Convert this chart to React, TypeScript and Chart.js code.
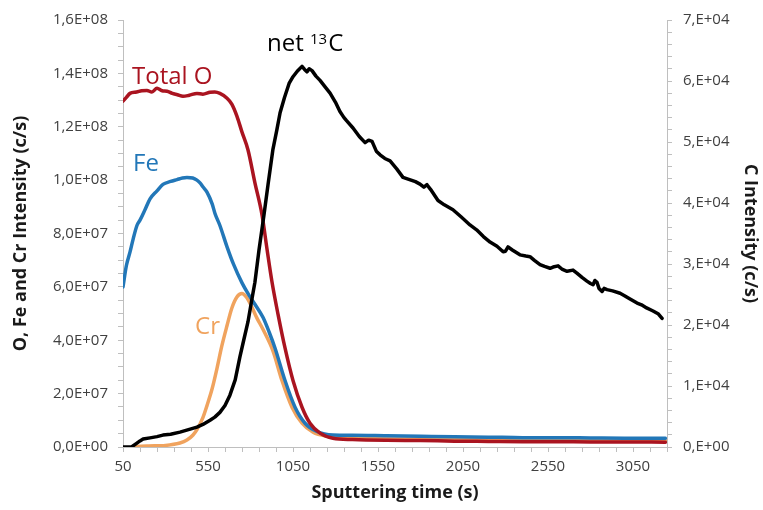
import React, { useEffect, useRef } from "react";
import { Chart, registerables } from "chart.js";

Chart.register(...registerables);

const FONT = "'Open Sans', 'DejaVu Sans', sans-serif";

// ---- Total O (left axis) ----
const timeO = [50, 70, 91, 130, 160, 191, 220, 250, 280, 309, 340, 370, 403, 440, 485, 520, 562, 590, 620, 662, 690, 720, 750, 785, 826, 868, 897, 926, 962, 1003, 1050, 1103, 1150, 1209, 1285, 1400, 1600, 1800, 2000, 2200, 2400, 2600, 2800, 3000, 3240];
const totalO = [1.296e8, 1.31e8, 1.325e8, 1.33e8, 1.335e8, 1.336e8, 1.33e8, 1.344e8, 1.335e8, 1.333e8, 1.325e8, 1.32e8, 1.314e8, 1.318e8, 1.325e8, 1.322e8, 1.329e8, 1.33e8, 1.325e8, 1.307e8, 1.285e8, 1.24e8, 1.18e8, 1.114e8, 9.9e7, 8.69e7, 7.42e7, 6.2e7, 4.97e7, 3.71e7, 2.49e7, 1.49e7, 8.9e6, 5.2e6, 3.3e6, 2.8e6, 2.5e6, 2.4e6, 2.2e6, 2.1e6, 2.0e6, 2.0e6, 1.9e6, 1.9e6, 1.8e6];

// ---- Fe (left axis) ----
const timeFe = [50, 70, 91, 110, 132, 150, 180, 209, 250, 285, 330, 368, 400, 426, 460, 485, 503, 520, 544, 575, 591, 620, 662, 700, 750, 790, 826, 874, 910, 944, 1003, 1062, 1121, 1191, 1285, 1400, 1600, 1800, 2000, 2200, 2400, 2600, 2800, 3000, 3240];
const fe = [6.0e7, 6.8e7, 7.3e7, 7.8e7, 8.3e7, 8.5e7, 8.9e7, 9.3e7, 9.6e7, 9.84e7, 9.95e7, 1.002e8, 1.008e8, 1.01e8, 1.008e8, 1.0e8, 9.9e7, 9.75e7, 9.55e7, 9.1e7, 8.75e7, 8.3e7, 7.5e7, 6.85e7, 6.15e7, 5.7e7, 5.35e7, 4.85e7, 4.3e7, 3.71e7, 2.49e7, 1.49e7, 8.9e6, 5.8e6, 4.5e6, 4.4e6, 4.2e6, 4.0e6, 3.8e6, 3.7e6, 3.5e6, 3.5e6, 3.4e6, 3.3e6, 3.3e6];

// ---- Cr (left axis) ----
const timeCr = [110, 135, 200, 300, 385, 426, 462, 485, 520, 544, 575, 603, 630, 662, 690, 720, 750, 775, 800, 838, 874, 932, 985, 1044, 1103, 1168, 1250, 1400, 1800, 2400, 3000, 3240];
const cr = [0, 2e5, 4e5, 6e5, 1.5e6, 2.6e6, 4.5e6, 6.5e6, 1.1e7, 1.55e7, 2.2e7, 2.95e7, 3.75e7, 4.55e7, 5.2e7, 5.62e7, 5.75e7, 5.62e7, 5.35e7, 4.83e7, 4.4e7, 3.6e7, 2.49e7, 1.49e7, 8.9e6, 5.5e6, 4.0e6, 3.3e6, 3.0e6, 2.7e6, 2.5e6, 2.4e6];

// ---- net 13C (right axis) ----
const timeC = [50, 100, 130, 150, 168, 209, 250, 285, 330, 385, 430, 485, 520, 562, 590, 620, 650, 679, 710, 738, 760, 785, 810, 826, 850, 879, 903, 932, 955, 974, 1000, 1027, 1050, 1075, 1103, 1118, 1132, 1145, 1162, 1185, 1209, 1240, 1268, 1300, 1326, 1350, 1365, 1403, 1440, 1474, 1495, 1515, 1540, 1562, 1590, 1621, 1660, 1697, 1740, 1770, 1797, 1820, 1838, 1860, 1903, 1940, 1991, 2040, 2091, 2130, 2170, 2209, 2250, 2286, 2300, 2315, 2340, 2385, 2420, 2444, 2470, 2503, 2530, 2562, 2580, 2609, 2635, 2662, 2697, 2720, 2750, 2779, 2800, 2815, 2826, 2838, 2850, 2868, 2880, 2897, 2930, 2974, 3000, 3030, 3074, 3100, 3130, 3168, 3200, 3221];
const netC = [0, 0, 600, 1000, 1300, 1500, 1700, 1950, 2100, 2440, 2800, 3250, 3700, 4390, 4900, 5680, 6800, 8500, 11000, 14800, 17500, 20500, 24500, 27000, 32300, 38000, 43000, 48800, 52000, 54800, 57300, 59600, 60700, 61600, 62400, 61900, 61500, 62000, 61700, 60800, 60100, 59000, 58000, 56500, 55000, 54000, 53500, 52300, 50900, 49900, 50300, 50100, 48500, 47900, 47300, 46900, 45600, 44200, 43800, 43500, 43100, 42600, 43000, 42200, 40400, 39700, 38900, 37700, 36400, 35600, 34500, 33600, 32900, 32000, 32100, 32800, 32300, 31500, 31300, 31200, 30600, 29900, 29600, 29300, 29500, 29700, 29100, 28800, 29000, 28500, 27800, 27200, 26800, 26600, 27300, 27000, 26000, 25500, 26000, 25800, 25600, 25200, 24800, 24300, 23600, 23300, 22800, 22300, 21800, 21100];

// ---- axes ----
const xMin = 50;
const xMax = 3250;
const xMinorStep = 100;
const xMajorTicks = [50, 550, 1050, 1550, 2050, 2550, 3050];

const yLeftMax = 1.6e8;
const yLeftMinorStep = 5e6;
const yLeftMajorTicks = [0, 2e7, 4e7, 6e7, 8e7, 1e8, 1.2e8, 1.4e8, 1.6e8];
const yLeftLabels = ["0,0E+00", "2,0E+07", "4,0E+07", "6,0E+07", "8,0E+07", "1,0E+08", "1,2E+08", "1,4E+08", "1,6E+08"];

const yRightMax = 7e4;
const yRightMinorStep = 2000;
const yRightMajorTicks = [0, 1e4, 2e4, 3e4, 4e4, 5e4, 6e4, 7e4];
const yRightLabels = ["0,E+00", "1,E+04", "2,E+04", "3,E+04", "4,E+04", "5,E+04", "6,E+04", "7,E+04"];

const COLOR_O = "#AA1420";
const COLOR_FE = "#2277B8";
const COLOR_CR = "#F0A35E";
const COLOR_C = "#000000";
const AXIS = "#BFBFBF";
const TICKTEXT = "#404040";
const TITLE = "#1A1A1A";

// series text labels (placed in data coordinates of x / left y axis)
const seriesLabels = [
  { text: "Total O", t: 103, v: 1.362e8, color: COLOR_O },
  { text: "Fe", t: 109, v: 1.036e8, color: COLOR_FE },
  { text: "Cr", t: 474, v: 4.23e7, color: COLOR_CR },
];
const netLabel = { pre: "net ", sup: "13", post: "C", t: 897, v: 1.485e8 };

function pts(t: number[], v: number[]) {
  return t.map((x, i) => ({ x, y: v[i] }));
}

function makeTicks(min: number, max: number, step: number) {
  const out: { value: number }[] = [];
  const n = Math.round((max - min) / step);
  for (let i = 0; i <= n; i++) out.push({ value: min + i * step });
  return out;
}

function labelFor(value: number, majors: number[], labels: string[]) {
  for (let i = 0; i < majors.length; i++) {
    if (Math.abs(majors[i] - value) < 1e-6 * Math.max(1, Math.abs(value))) return labels[i];
  }
  return "";
}

const labelPlugin = {
  id: "seriesLabels",
  afterDatasetsDraw(chart: any) {
    const { ctx, scales } = chart;
    const x = scales.x;
    const y = scales.y;
    ctx.save();
    ctx.textBaseline = "alphabetic";
    ctx.textAlign = "left";
    for (const lab of seriesLabels) {
      ctx.font = `24px ${FONT}`;
      ctx.fillStyle = lab.color;
      ctx.fillText(lab.text, x.getPixelForValue(lab.t), y.getPixelForValue(lab.v));
    }
    const px = x.getPixelForValue(netLabel.t);
    const py = y.getPixelForValue(netLabel.v);
    ctx.fillStyle = COLOR_C;
    ctx.font = `24px ${FONT}`;
    ctx.fillText(netLabel.pre, px, py);
    const w1 = ctx.measureText(netLabel.pre).width;
    ctx.font = `15px ${FONT}`;
    ctx.fillText(netLabel.sup, px + w1, py - 7);
    const w2 = ctx.measureText(netLabel.sup).width;
    ctx.font = `24px ${FONT}`;
    ctx.fillText(netLabel.post, px + w1 + w2 + 1, py);
    ctx.restore();
  },
};

export default function App() {
  const ref = useRef<HTMLCanvasElement | null>(null);

  useEffect(() => {
    if (!ref.current) return;
    const common = {
      pointRadius: 0,
      borderWidth: 3.5,
      fill: false,
      borderJoinStyle: "round" as const,
      borderCapStyle: "round" as const,
    };
    const titleFont = { family: FONT, size: 18, weight: "bold" as const };
    const tickFont = { family: FONT, size: 15 };
    const chart = new Chart(ref.current, {
      type: "line",
      data: {
        datasets: [
          { ...common, label: "net 13C", data: pts(timeC, netC), borderColor: COLOR_C, yAxisID: "y1", tension: 0 },
          { ...common, label: "Total O", data: pts(timeO, totalO), borderColor: COLOR_O, yAxisID: "y", cubicInterpolationMode: "monotone" },
          { ...common, label: "Fe", data: pts(timeFe, fe), borderColor: COLOR_FE, yAxisID: "y", cubicInterpolationMode: "monotone" },
          { ...common, label: "Cr", data: pts(timeCr, cr), borderColor: COLOR_CR, yAxisID: "y", cubicInterpolationMode: "monotone" },
        ],
      },
      options: {
        animation: false,
        responsive: false,
        events: [],
        layout: { padding: { left: 6, right: 0, top: 16, bottom: 3 } },
        plugins: { legend: { display: false }, tooltip: { enabled: false } },
        scales: {
          x: {
            type: "linear",
            min: xMin,
            max: xMax,
            afterBuildTicks: (s: any) => { s.ticks = makeTicks(xMin, xMax, xMinorStep); },
            afterFit: (s: any) => { s.height = 60; },
            ticks: {
              autoSkip: false,
              maxRotation: 0,
              padding: 6,
              color: TICKTEXT,
              font: tickFont,
              callback: (v: any) => labelFor(Number(v), xMajorTicks, xMajorTicks.map(String)),
            },
            grid: { drawOnChartArea: false, drawTicks: true, tickLength: 5, color: AXIS },
            border: { color: AXIS, width: 1 },
            title: {
              display: true,
              text: "Sputtering time (s)",
              color: TITLE,
              font: titleFont,
              padding: { top: 4, bottom: 3 },
            },
          },
          y: {
            type: "linear",
            position: "left",
            min: 0,
            max: yLeftMax,
            afterBuildTicks: (s: any) => { s.ticks = makeTicks(0, yLeftMax, yLeftMinorStep); },
            afterFit: (s: any) => { s.width = 117; },
            ticks: {
              autoSkip: false,
              padding: 10,
              color: TICKTEXT,
              font: tickFont,
              callback: (v: any) => labelFor(Number(v), yLeftMajorTicks, yLeftLabels),
            },
            grid: { drawOnChartArea: false, drawTicks: true, tickLength: 5, color: AXIS },
            border: { color: AXIS, width: 1 },
            title: {
              display: true,
              text: "O, Fe and Cr Intensity (c/s)",
              color: TITLE,
              font: titleFont,
              padding: { top: 4, bottom: 4 },
            },
          },
          y1: {
            type: "linear",
            position: "right",
            min: 0,
            max: yRightMax,
            afterBuildTicks: (s: any) => { s.ticks = makeTicks(0, yRightMax, yRightMinorStep); },
            afterFit: (s: any) => { s.width = 96; },
            ticks: {
              autoSkip: false,
              padding: 11,
              color: TICKTEXT,
              font: tickFont,
              callback: (v: any) => labelFor(Number(v), yRightMajorTicks, yRightLabels),
            },
            grid: { drawOnChartArea: false, drawTicks: true, tickLength: 5, color: AXIS },
            border: { color: AXIS, width: 1 },
            title: {
              display: true,
              text: "C Intensity (c/s)",
              color: TITLE,
              font: titleFont,
              padding: { top: 2, bottom: 4 },
            },
          },
        },
      },
      plugins: [labelPlugin],
    } as any);
    return () => chart.destroy();
  }, []);

  return (
    <div style={{ position: "fixed", left: 0, top: 0, width: 763, height: 510, background: "#ffffff" }}>
      <canvas ref={ref} width={763} height={510} style={{ display: "block", width: 763, height: 510 }} />
    </div>
  );
}
